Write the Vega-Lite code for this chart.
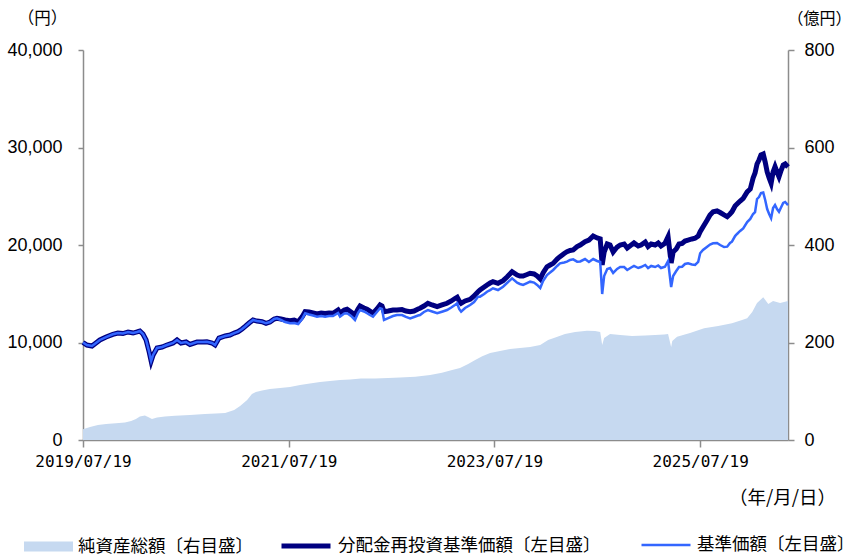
{
  "$schema": "https://vega.github.io/schema/vega-lite/v6.json",
  "width": 705,
  "height": 390,
  "autosize": {"type": "none"},
  "padding": {"left": 83, "top": 50, "right": 65, "bottom": 116},
  "background": "white",
  "config": {
    "view": {"stroke": null},
    "font": "Liberation Sans",
    "legend": {"labelFont": "Noto Sans CJK JP", "labelFontSize": 17.5, "labelColor": "#000000", "labelOffset": 5, "labelLimit": 400, "symbolSize": 2401, "symbolOpacity": 1}
  },
  "datasets": {
    "assets": [
      {"d": "2019-07-19", "a": 22}, {"d": "2019-08-13", "a": 26.7}, {"d": "2019-09-10", "a": 30.8}, {"d": "2019-10-09", "a": 32.8},
      {"d": "2019-11-13", "a": 34.3}, {"d": "2019-12-15", "a": 35.9}, {"d": "2020-01-06", "a": 39}, {"d": "2020-01-23", "a": 43},
      {"d": "2020-02-06", "a": 48.2}, {"d": "2020-02-24", "a": 50.3}, {"d": "2020-03-06", "a": 47.2}, {"d": "2020-03-20", "a": 43},
      {"d": "2020-04-07", "a": 46.2}, {"d": "2020-05-05", "a": 48.2}, {"d": "2020-06-10", "a": 49.6}, {"d": "2020-08-02", "a": 51.3},
      {"d": "2020-09-24", "a": 53.3}, {"d": "2020-11-02", "a": 54.4}, {"d": "2020-12-05", "a": 55.4}, {"d": "2021-01-06", "a": 61.5},
      {"d": "2021-01-27", "a": 69.7}, {"d": "2021-02-21", "a": 82}, {"d": "2021-03-10", "a": 94.4}, {"d": "2021-03-24", "a": 98.5},
      {"d": "2021-04-15", "a": 101.5}, {"d": "2021-05-13", "a": 104.6}, {"d": "2021-06-18", "a": 106.7}, {"d": "2021-07-23", "a": 108.7},
      {"d": "2021-08-28", "a": 112.8}, {"d": "2021-10-02", "a": 115.9}, {"d": "2021-11-07", "a": 119}, {"d": "2021-12-12", "a": 121},
      {"d": "2022-01-17", "a": 123}, {"d": "2022-02-22", "a": 124}, {"d": "2022-04-01", "a": 126}, {"d": "2022-05-21", "a": 126},
      {"d": "2022-07-07", "a": 127}, {"d": "2022-08-18", "a": 128}, {"d": "2022-10-11", "a": 130}, {"d": "2022-12-03", "a": 133.3},
      {"d": "2023-01-14", "a": 138}, {"d": "2023-02-19", "a": 143.6}, {"d": "2023-03-19", "a": 147.7}, {"d": "2023-04-17", "a": 156},
      {"d": "2023-05-12", "a": 164}, {"d": "2023-06-06", "a": 172}, {"d": "2023-07-04", "a": 178.5}, {"d": "2023-08-08", "a": 182.6},
      {"d": "2023-09-13", "a": 186.7}, {"d": "2023-10-18", "a": 188.7}, {"d": "2023-11-23", "a": 190.8}, {"d": "2023-12-29", "a": 195},
      {"d": "2024-01-26", "a": 205}, {"d": "2024-02-23", "a": 211}, {"d": "2024-03-26", "a": 217.4}, {"d": "2024-05-01", "a": 221.5},
      {"d": "2024-06-12", "a": 224}, {"d": "2024-07-11", "a": 223.6}, {"d": "2024-07-29", "a": 221.5}, {"d": "2024-08-05", "a": 195},
      {"d": "2024-08-12", "a": 209}, {"d": "2024-09-02", "a": 217.4}, {"d": "2024-10-08", "a": 215.4}, {"d": "2024-11-19", "a": 213.3},
      {"d": "2025-01-05", "a": 214.4}, {"d": "2025-02-09", "a": 215.4}, {"d": "2025-03-13", "a": 216.4}, {"d": "2025-03-27", "a": 217.4},
      {"d": "2025-04-07", "a": 190.8}, {"d": "2025-04-11", "a": 203}, {"d": "2025-04-28", "a": 212}, {"d": "2025-06-13", "a": 219.5},
      {"d": "2025-08-02", "a": 229}, {"d": "2025-09-21", "a": 234}, {"d": "2025-11-09", "a": 239.4}, {"d": "2025-12-15", "a": 246},
      {"d": "2026-01-02", "a": 249.6}, {"d": "2026-01-20", "a": 262.6}, {"d": "2026-02-06", "a": 281}, {"d": "2026-02-28", "a": 293},
      {"d": "2026-03-18", "a": 279}, {"d": "2026-04-04", "a": 285}, {"d": "2026-04-29", "a": 281}, {"d": "2026-05-27", "a": 285}
    ],
    "lines": [
      {"d": "2019-07-19", "r": 10000, "n": 10000}, {"d": "2019-08-02", "r": 9740, "n": 9740}, {"d": "2019-08-20", "r": 9640, "n": 9640},
      {"d": "2019-09-03", "r": 9950, "n": 9950}, {"d": "2019-09-17", "r": 10260, "n": 10260}, {"d": "2019-10-09", "r": 10560, "n": 10560},
      {"d": "2019-11-02", "r": 10840, "n": 10840}, {"d": "2019-11-20", "r": 10970, "n": 10970}, {"d": "2019-12-08", "r": 10920, "n": 10920},
      {"d": "2019-12-26", "r": 11080, "n": 11080}, {"d": "2020-01-13", "r": 10970, "n": 10970}, {"d": "2020-01-27", "r": 11080, "n": 11080},
      {"d": "2020-02-06", "r": 11180, "n": 11180}, {"d": "2020-02-17", "r": 10870, "n": 10870}, {"d": "2020-02-28", "r": 10260, "n": 10260},
      {"d": "2020-03-10", "r": 9030, "n": 9030}, {"d": "2020-03-17", "r": 8100, "n": 8100}, {"d": "2020-03-24", "r": 8720, "n": 8720},
      {"d": "2020-04-07", "r": 9440, "n": 9440}, {"d": "2020-04-25", "r": 9540, "n": 9540}, {"d": "2020-05-12", "r": 9740, "n": 9740},
      {"d": "2020-06-03", "r": 9950, "n": 9950}, {"d": "2020-06-17", "r": 10260, "n": 10260}, {"d": "2020-07-01", "r": 9950, "n": 9950},
      {"d": "2020-07-19", "r": 10050, "n": 10050}, {"d": "2020-08-02", "r": 9800, "n": 9800}, {"d": "2020-08-27", "r": 10050, "n": 10050},
      {"d": "2020-09-17", "r": 10050, "n": 10050}, {"d": "2020-10-01", "r": 10080, "n": 10080}, {"d": "2020-10-19", "r": 9950, "n": 9950},
      {"d": "2020-10-30", "r": 9740, "n": 9740}, {"d": "2020-11-13", "r": 10460, "n": 10460}, {"d": "2020-12-05", "r": 10670, "n": 10670},
      {"d": "2020-12-22", "r": 10770, "n": 10770}, {"d": "2021-01-06", "r": 10970, "n": 10970}, {"d": "2021-01-20", "r": 11110, "n": 11110},
      {"d": "2021-02-03", "r": 11380, "n": 11380}, {"d": "2021-02-13", "r": 11620, "n": 11620}, {"d": "2021-02-28", "r": 12000, "n": 12000},
      {"d": "2021-03-14", "r": 12310, "n": 12310}, {"d": "2021-03-28", "r": 12200, "n": 12200}, {"d": "2021-04-15", "r": 12130, "n": 12130},
      {"d": "2021-04-29", "r": 11970, "n": 11970}, {"d": "2021-05-13", "r": 12100, "n": 12100}, {"d": "2021-05-28", "r": 12410, "n": 12410},
      {"d": "2021-06-07", "r": 12480, "n": 12480}, {"d": "2021-06-21", "r": 12410, "n": 12310}, {"d": "2021-07-06", "r": 12310, "n": 12100},
      {"d": "2021-07-23", "r": 12240, "n": 11970}, {"d": "2021-08-07", "r": 12310, "n": 12000}, {"d": "2021-08-21", "r": 12130, "n": 11900},
      {"d": "2021-09-04", "r": 12620, "n": 12410}, {"d": "2021-09-15", "r": 13160, "n": 13000}, {"d": "2021-09-29", "r": 13130, "n": 12870},
      {"d": "2021-10-13", "r": 13030, "n": 12770}, {"d": "2021-10-27", "r": 12920, "n": 12650}, {"d": "2021-11-11", "r": 13030, "n": 12720},
      {"d": "2021-11-25", "r": 12970, "n": 12650}, {"d": "2021-12-09", "r": 13030, "n": 12720}, {"d": "2021-12-23", "r": 13000, "n": 12720},
      {"d": "2022-01-10", "r": 13330, "n": 13030}, {"d": "2022-01-17", "r": 13030, "n": 12650}, {"d": "2022-02-01", "r": 13330, "n": 12970},
      {"d": "2022-02-11", "r": 13410, "n": 13000}, {"d": "2022-02-25", "r": 13130, "n": 12720}, {"d": "2022-03-11", "r": 12820, "n": 12310},
      {"d": "2022-03-22", "r": 13440, "n": 13030}, {"d": "2022-03-29", "r": 13740, "n": 13330}, {"d": "2022-04-12", "r": 13540, "n": 13180},
      {"d": "2022-04-23", "r": 13410, "n": 13000}, {"d": "2022-05-03", "r": 13230, "n": 12820}, {"d": "2022-05-14", "r": 13000, "n": 12650},
      {"d": "2022-05-28", "r": 13440, "n": 13130}, {"d": "2022-06-08", "r": 13850, "n": 13510}, {"d": "2022-06-15", "r": 13740, "n": 13440},
      {"d": "2022-06-22", "r": 13160, "n": 12310}, {"d": "2022-07-07", "r": 13230, "n": 12510}, {"d": "2022-07-24", "r": 13330, "n": 12720},
      {"d": "2022-08-07", "r": 13330, "n": 12820}, {"d": "2022-08-25", "r": 13380, "n": 12820}, {"d": "2022-09-08", "r": 13230, "n": 12620},
      {"d": "2022-09-23", "r": 13160, "n": 12480}, {"d": "2022-10-07", "r": 13230, "n": 12620}, {"d": "2022-10-21", "r": 13440, "n": 12770},
      {"d": "2022-10-28", "r": 13510, "n": 12820}, {"d": "2022-11-11", "r": 13740, "n": 13130}, {"d": "2022-11-25", "r": 14020, "n": 13330},
      {"d": "2022-12-10", "r": 13850, "n": 13180}, {"d": "2022-12-28", "r": 13670, "n": 13000}, {"d": "2023-01-14", "r": 13850, "n": 13160},
      {"d": "2023-02-01", "r": 14020, "n": 13330}, {"d": "2023-02-16", "r": 14260, "n": 13590}, {"d": "2023-03-01", "r": 14510, "n": 13850},
      {"d": "2023-03-09", "r": 14640, "n": 14020}, {"d": "2023-03-16", "r": 14260, "n": 13440}, {"d": "2023-03-23", "r": 14020, "n": 13160},
      {"d": "2023-04-06", "r": 14260, "n": 13540}, {"d": "2023-04-24", "r": 14430, "n": 13850}, {"d": "2023-05-08", "r": 14770, "n": 14150},
      {"d": "2023-05-22", "r": 15210, "n": 14700}, {"d": "2023-05-29", "r": 15380, "n": 14700}, {"d": "2023-06-13", "r": 15690, "n": 14970},
      {"d": "2023-06-23", "r": 15900, "n": 15210}, {"d": "2023-07-04", "r": 16100, "n": 15380}, {"d": "2023-07-14", "r": 16240, "n": 15560},
      {"d": "2023-08-01", "r": 16070, "n": 15380}, {"d": "2023-08-19", "r": 16340, "n": 15720}, {"d": "2023-09-02", "r": 16720, "n": 16100},
      {"d": "2023-09-20", "r": 17260, "n": 16580}, {"d": "2023-10-08", "r": 16920, "n": 16130}, {"d": "2023-10-18", "r": 16820, "n": 16000},
      {"d": "2023-10-29", "r": 16820, "n": 15900}, {"d": "2023-11-12", "r": 16970, "n": 16100}, {"d": "2023-11-23", "r": 17100, "n": 16240},
      {"d": "2023-12-07", "r": 17030, "n": 16150}, {"d": "2023-12-18", "r": 16820, "n": 15900}, {"d": "2023-12-29", "r": 16510, "n": 15590},
      {"d": "2024-01-08", "r": 17130, "n": 16310}, {"d": "2024-01-22", "r": 17770, "n": 16920}, {"d": "2024-02-02", "r": 17950, "n": 17180},
      {"d": "2024-02-13", "r": 18120, "n": 17440}, {"d": "2024-02-27", "r": 18560, "n": 17850}, {"d": "2024-03-08", "r": 18800, "n": 18120},
      {"d": "2024-03-23", "r": 19130, "n": 18200}, {"d": "2024-04-02", "r": 19310, "n": 18290}, {"d": "2024-04-13", "r": 19440, "n": 18460},
      {"d": "2024-04-24", "r": 19490, "n": 18530}, {"d": "2024-05-08", "r": 19830, "n": 18290}, {"d": "2024-05-19", "r": 20000, "n": 18310},
      {"d": "2024-06-05", "r": 20340, "n": 18560}, {"d": "2024-06-19", "r": 20510, "n": 18260}, {"d": "2024-07-04", "r": 20920, "n": 18560},
      {"d": "2024-07-18", "r": 20720, "n": 18360}, {"d": "2024-07-29", "r": 20620, "n": 18260}, {"d": "2024-08-05", "r": 17950, "n": 14970},
      {"d": "2024-08-12", "r": 19280, "n": 16820}, {"d": "2024-08-23", "r": 20100, "n": 17540}, {"d": "2024-09-02", "r": 20000, "n": 17640},
      {"d": "2024-09-13", "r": 19280, "n": 17130}, {"d": "2024-09-27", "r": 19790, "n": 17540}, {"d": "2024-10-08", "r": 20000, "n": 17740},
      {"d": "2024-10-22", "r": 20100, "n": 17740}, {"d": "2024-11-02", "r": 19690, "n": 17440}, {"d": "2024-11-16", "r": 20000, "n": 17690},
      {"d": "2024-11-26", "r": 20210, "n": 17850}, {"d": "2024-12-11", "r": 19900, "n": 17640}, {"d": "2024-12-21", "r": 20000, "n": 17740},
      {"d": "2025-01-05", "r": 20310, "n": 17950}, {"d": "2025-01-15", "r": 19850, "n": 17640}, {"d": "2025-01-26", "r": 20100, "n": 17850},
      {"d": "2025-02-09", "r": 20000, "n": 17740}, {"d": "2025-02-20", "r": 20210, "n": 17900}, {"d": "2025-03-02", "r": 19900, "n": 17640},
      {"d": "2025-03-16", "r": 20170, "n": 17770}, {"d": "2025-03-27", "r": 20850, "n": 18360}, {"d": "2025-04-07", "r": 18150, "n": 15690},
      {"d": "2025-04-14", "r": 19280, "n": 16820}, {"d": "2025-04-25", "r": 19590, "n": 17330}, {"d": "2025-05-05", "r": 20100, "n": 17740},
      {"d": "2025-05-16", "r": 20170, "n": 17770}, {"d": "2025-05-26", "r": 20410, "n": 18050}, {"d": "2025-06-06", "r": 20510, "n": 18120},
      {"d": "2025-06-20", "r": 20620, "n": 18000}, {"d": "2025-07-01", "r": 20690, "n": 17950}, {"d": "2025-07-12", "r": 20920, "n": 18260},
      {"d": "2025-07-19", "r": 21360, "n": 19150}, {"d": "2025-07-29", "r": 21850, "n": 19490}, {"d": "2025-08-13", "r": 22560, "n": 19830},
      {"d": "2025-08-23", "r": 23080, "n": 20050}, {"d": "2025-09-03", "r": 23410, "n": 20170}, {"d": "2025-09-17", "r": 23490, "n": 20210},
      {"d": "2025-09-28", "r": 23330, "n": 20000}, {"d": "2025-10-12", "r": 23080, "n": 19790}, {"d": "2025-10-23", "r": 22900, "n": 19830},
      {"d": "2025-11-02", "r": 23180, "n": 20210}, {"d": "2025-11-09", "r": 23410, "n": 20340}, {"d": "2025-11-20", "r": 24000, "n": 20920},
      {"d": "2025-11-27", "r": 24200, "n": 21130}, {"d": "2025-12-08", "r": 24510, "n": 21440}, {"d": "2025-12-19", "r": 24790, "n": 21710},
      {"d": "2026-01-02", "r": 25440, "n": 22360}, {"d": "2026-01-13", "r": 25740, "n": 22670}, {"d": "2026-01-23", "r": 26870, "n": 23180},
      {"d": "2026-01-30", "r": 27380, "n": 23380}, {"d": "2026-02-06", "r": 28310, "n": 24720}, {"d": "2026-02-13", "r": 28720, "n": 24920},
      {"d": "2026-02-20", "r": 29230, "n": 25330}, {"d": "2026-02-28", "r": 29330, "n": 25380}, {"d": "2026-03-07", "r": 28510, "n": 24610},
      {"d": "2026-03-14", "r": 27490, "n": 23690}, {"d": "2026-03-21", "r": 26870, "n": 23180}, {"d": "2026-03-28", "r": 26330, "n": 22740},
      {"d": "2026-04-04", "r": 27490, "n": 23790}, {"d": "2026-04-11", "r": 28030, "n": 24100}, {"d": "2026-04-18", "r": 27490, "n": 23690},
      {"d": "2026-04-25", "r": 27000, "n": 23410}, {"d": "2026-05-03", "r": 27690, "n": 23900}, {"d": "2026-05-10", "r": 28200, "n": 24310},
      {"d": "2026-05-17", "r": 28310, "n": 24410}, {"d": "2026-05-27", "r": 28000, "n": 24100}
    ]
  },
  "encoding": {
    "x": {
      "field": "d", "type": "temporal",
      "scale": {"type": "utc", "domain": [{"year": 2019, "month": 7, "date": 19, "utc": true}, {"year": 2026, "month": 5, "date": 27, "utc": true}]},
      "axis": {
        "values": [{"year": 2019, "month": 7, "date": 19, "utc": true}, {"year": 2021, "month": 7, "date": 19, "utc": true}, {"year": 2023, "month": 7, "date": 19, "utc": true}, {"year": 2025, "month": 7, "date": 19, "utc": true}],
        "format": "%Y/%m/%d", "grid": false, "labelAngle": 0,
        "labelFont": "DejaVu Sans Mono", "labelFontSize": 16, "labelColor": "#000000", "labelPadding": 6,
        "labelOverlap": false, "labelFlush": false,
        "domainColor": "#8c8c8c", "domainWidth": 1.5, "tickColor": "#8c8c8c", "tickWidth": 1.5, "tickSize": 7,
        "title": "（年/月/日）", "titleFont": "Noto Sans CJK JP", "titleFontSize": 18.5, "titleFontWeight": "normal", "titleColor": "#000000",
        "titleX": 699, "titleY": 57, "titleAlign": "center", "titleBaseline": "middle", "titleAngle": 0
      }
    }
  },
  "layer": [
    {
      "data": {"name": "assets"},
      "mark": {"type": "area", "interpolate": "linear", "opacity": 1},
      "encoding": {
        "y": {
          "field": "a", "type": "quantitative", "scale": {"domain": [0, 800], "nice": false},
          "axis": {
            "orient": "right", "values": [0, 200, 400, 600, 800], "format": "d", "grid": false,
            "labelFont": "Liberation Sans", "labelFontSize": 18, "labelColor": "#000000", "labelPadding": 10,
            "domainColor": "#8c8c8c", "domainWidth": 1.5, "tickColor": "#8c8c8c", "tickWidth": 1.5, "tickSize": 6,
            "title": "（億円）", "titleFont": "Noto Sans CJK JP", "titleFontSize": 16, "titleFontWeight": "normal", "titleColor": "#000000",
            "titleX": 31, "titleY": -32, "titleAngle": 0, "titleAlign": "center", "titleBaseline": "middle"
          }
        },
        "fill": {
          "datum": "純資産総額〔右目盛〕", "type": "nominal",
          "scale": {"domain": ["純資産総額〔右目盛〕"], "range": ["#c6d9f0"]},
          "legend": {"orient": "none", "legendX": -59, "legendY": 472, "title": null, "symbolType": "M-1,-0.2H1V0.2H-1Z", "symbolStrokeWidth": 0}
        }
      }
    },
    {
      "data": {"name": "lines"},
      "encoding": {
        "y": {
          "type": "quantitative", "scale": {"domain": [0, 40000], "nice": false},
          "axis": {
            "orient": "left", "values": [0, 10000, 20000, 30000, 40000], "format": ",.0f", "grid": false,
            "labelFont": "Liberation Sans", "labelFontSize": 18, "labelColor": "#000000", "labelPadding": 16,
            "domainColor": "#8c8c8c", "domainWidth": 1.5, "tickColor": "#8c8c8c", "tickWidth": 1.5, "tickSize": 5,
            "title": "（円）", "titleFont": "Noto Sans CJK JP", "titleFontSize": 16.5, "titleFontWeight": "normal", "titleColor": "#000000",
            "titleX": -41, "titleY": -32, "titleAngle": 0, "titleAlign": "center", "titleBaseline": "middle"
          }
        }
      },
      "layer": [
        {
          "mark": {"type": "line", "strokeWidth": 5, "interpolate": "linear"},
          "encoding": {
            "y": {"field": "r", "type": "quantitative"},
            "stroke": {
              "datum": "分配金再投資基準価額〔左目盛〕", "type": "nominal",
              "scale": {"domain": ["分配金再投資基準価額〔左目盛〕"], "range": ["#000080"]},
              "legend": {"orient": "none", "legendX": 196, "legendY": 469, "title": null, "symbolType": "stroke", "symbolStrokeWidth": 5}
            }
          }
        },
        {
          "mark": {"type": "line", "strokeWidth": 2.5, "interpolate": "linear"},
          "encoding": {
            "y": {"field": "n", "type": "quantitative"},
            "color": {
              "datum": "基準価額〔左目盛〕", "type": "nominal",
              "scale": {"domain": ["基準価額〔左目盛〕"], "range": ["#3366ff"]},
              "legend": {"orient": "none", "legendX": 557, "legendY": 469, "title": null, "symbolType": "stroke", "symbolStrokeWidth": 2.5}
            }
          }
        }
      ]
    }
  ],
  "resolve": {"scale": {"y": "independent"}}
}
